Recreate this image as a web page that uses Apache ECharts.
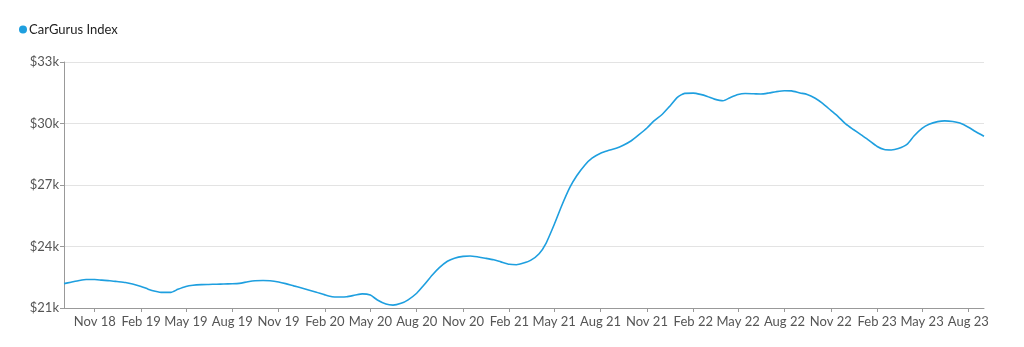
<!DOCTYPE html>
<html>
<head>
<meta charset="utf-8">
<script src="https://cdn.jsdelivr.net/npm/echarts@6/dist/echarts.min.js"></script>
<style>
html,body{margin:0;padding:0;background:#fff;}
#chart{width:1024px;height:347px;}
</style>
</head>
<body>
<div id="chart"></div>
<script>
// Semi-monthly dates (1st and 15th) from Sep 2018 to Sep 2023
const seriesName = 'CarGurus Index';
const dates = [];
(function(){
  for (let y = 2018; y <= 2023; y++) {
    for (let m = 1; m <= 12; m++) {
      if (y === 2018 && m < 9) continue;
      if (y === 2023 && m > 9) continue;
      const mm = String(m).padStart(2, '0');
      dates.push(y + '-' + mm + '-01');
      if (!(y === 2023 && m === 9)) dates.push(y + '-' + mm + '-15');
    }
  }
})();
const values = [
  22190, 22260, 22340, 22390, 22390, 22360, 22330, 22290, // Sep18-Dec18
  22240, 22170, 22050, 21920, 21820, 21760, 21760, 21910, // Jan19-Apr19
  22050, 22110, 22140, 22150, 22160, 22170, 22180, 22200, // May19-Aug19
  22280, 22330, 22340, 22330, 22270, 22190, 22080, 21990, // Sep19-Dec19
  21870, 21770, 21640, 21550, 21540, 21550, 21630, 21690, // Jan20-Apr20
  21630, 21390, 21190, 21140, 21230, 21400, 21720, 22110, // May20-Aug20
  22610, 22970, 23280, 23430, 23520, 23540, 23490, 23430, // Sep20-Dec20
  23350, 23250, 23130, 23110, 23190, 23320, 23650, 24170, // Jan21-Apr21
  25070, 25940, 26880, 27460, 27980, 28310, 28550, 28670, // May21-Aug21
  28790, 28940, 29160, 29430, 29780, 30130, 30440, 30810, // Sep21-Dec21
  31290, 31470, 31480, 31420, 31320, 31190, 31110, 31260, // Jan22-Apr22
  31410, 31460, 31450, 31440, 31490, 31550, 31600, 31590, // May22-Aug22
  31490, 31420, 31230, 30990, 30640, 30350, 29970, 29720, // Sep22-Dec22
  29430, 29190, 28880, 28730, 28710, 28780, 28980, 29390, // Jan23-Apr23
  29760, 29960, 30090, 30130, 30100, 30020, 29820, 29610, // May23-Aug23
  29380                                                   // Sep23
];
const xTickDates = ['2018-11-01','2019-02-01','2019-05-01','2019-08-01','2019-11-01','2020-02-01','2020-05-01','2020-08-01','2020-11-01','2021-02-01','2021-05-01','2021-08-01','2021-11-01','2022-02-01','2022-05-01','2022-08-01','2022-11-01','2023-02-01','2023-05-01','2023-08-01'];
const yMin = 21000, yMax = 33000, yStep = 3000;

const monthNames = ['Jan','Feb','Mar','Apr','May','Jun','Jul','Aug','Sep','Oct','Nov','Dec'];
const toTs = s => { const p = s.split('-').map(Number); return Date.UTC(p[0], p[1]-1, p[2]); };
const tickTs = xTickDates.map(toTs);
const data = dates.map((d, i) => [toTs(d), values[i]]);

const chart = echarts.init(document.getElementById('chart'), null, {renderer: 'canvas'});
chart.setOption({
  animation: false,
  textStyle: {fontFamily: 'Lato, "DejaVu Sans", sans-serif'},
  legend: {
    left: 14, top: 18,
    icon: 'circle', itemWidth: 8, itemHeight: 8, itemGap: 10,
    textStyle: {fontFamily: 'Lato', fontSize: 13, color: '#222', padding: [0,0,0,-3]},
    data: [seriesName]
  },
  grid: {left: 64, right: 40, top: 62, bottom: 39, containLabel: false},
  xAxis: {
    type: 'value',
    min: toTs(dates[0]),
    max: toTs(dates[dates.length-1]),
    axisLine: {show: true, lineStyle: {color: '#999', width: 1}},
    axisTick: {show: true, length: 4, lineStyle: {color: '#999'}, customValues: tickTs},
    axisLabel: {
      customValues: tickTs,
      showMinLabel: true, showMaxLabel: true,
      color: '#555', fontFamily: 'Lato', fontSize: 13, margin: 7,
      formatter: v => { const d = new Date(v); return monthNames[d.getUTCMonth()] + ' ' + String(d.getUTCFullYear()).slice(2); }
    },
    splitLine: {show: false}
  },
  yAxis: {
    type: 'value',
    min: yMin, max: yMax, interval: yStep,
    axisLine: {show: true, lineStyle: {color: '#999', width: 1}},
    axisTick: {show: true, length: 4, lineStyle: {color: '#999'}},
    axisLabel: {color: '#555', fontFamily: 'Lato', fontSize: 13, margin: 5,
      formatter: v => '$' + (v/1000) + 'k'},
    splitLine: {show: true, lineStyle: {color: '#e3e3e3', width: 1}}
  },
  series: [{
    name: seriesName,
    type: 'line',
    data: data,
    showSymbol: false,
    symbol: 'circle',
    smooth: 0.2,
    itemStyle: {color: '#1e9fdf'},
    lineStyle: {color: '#1e9fdf', width: 1.6}
  }]
});
</script>
</body>
</html>
